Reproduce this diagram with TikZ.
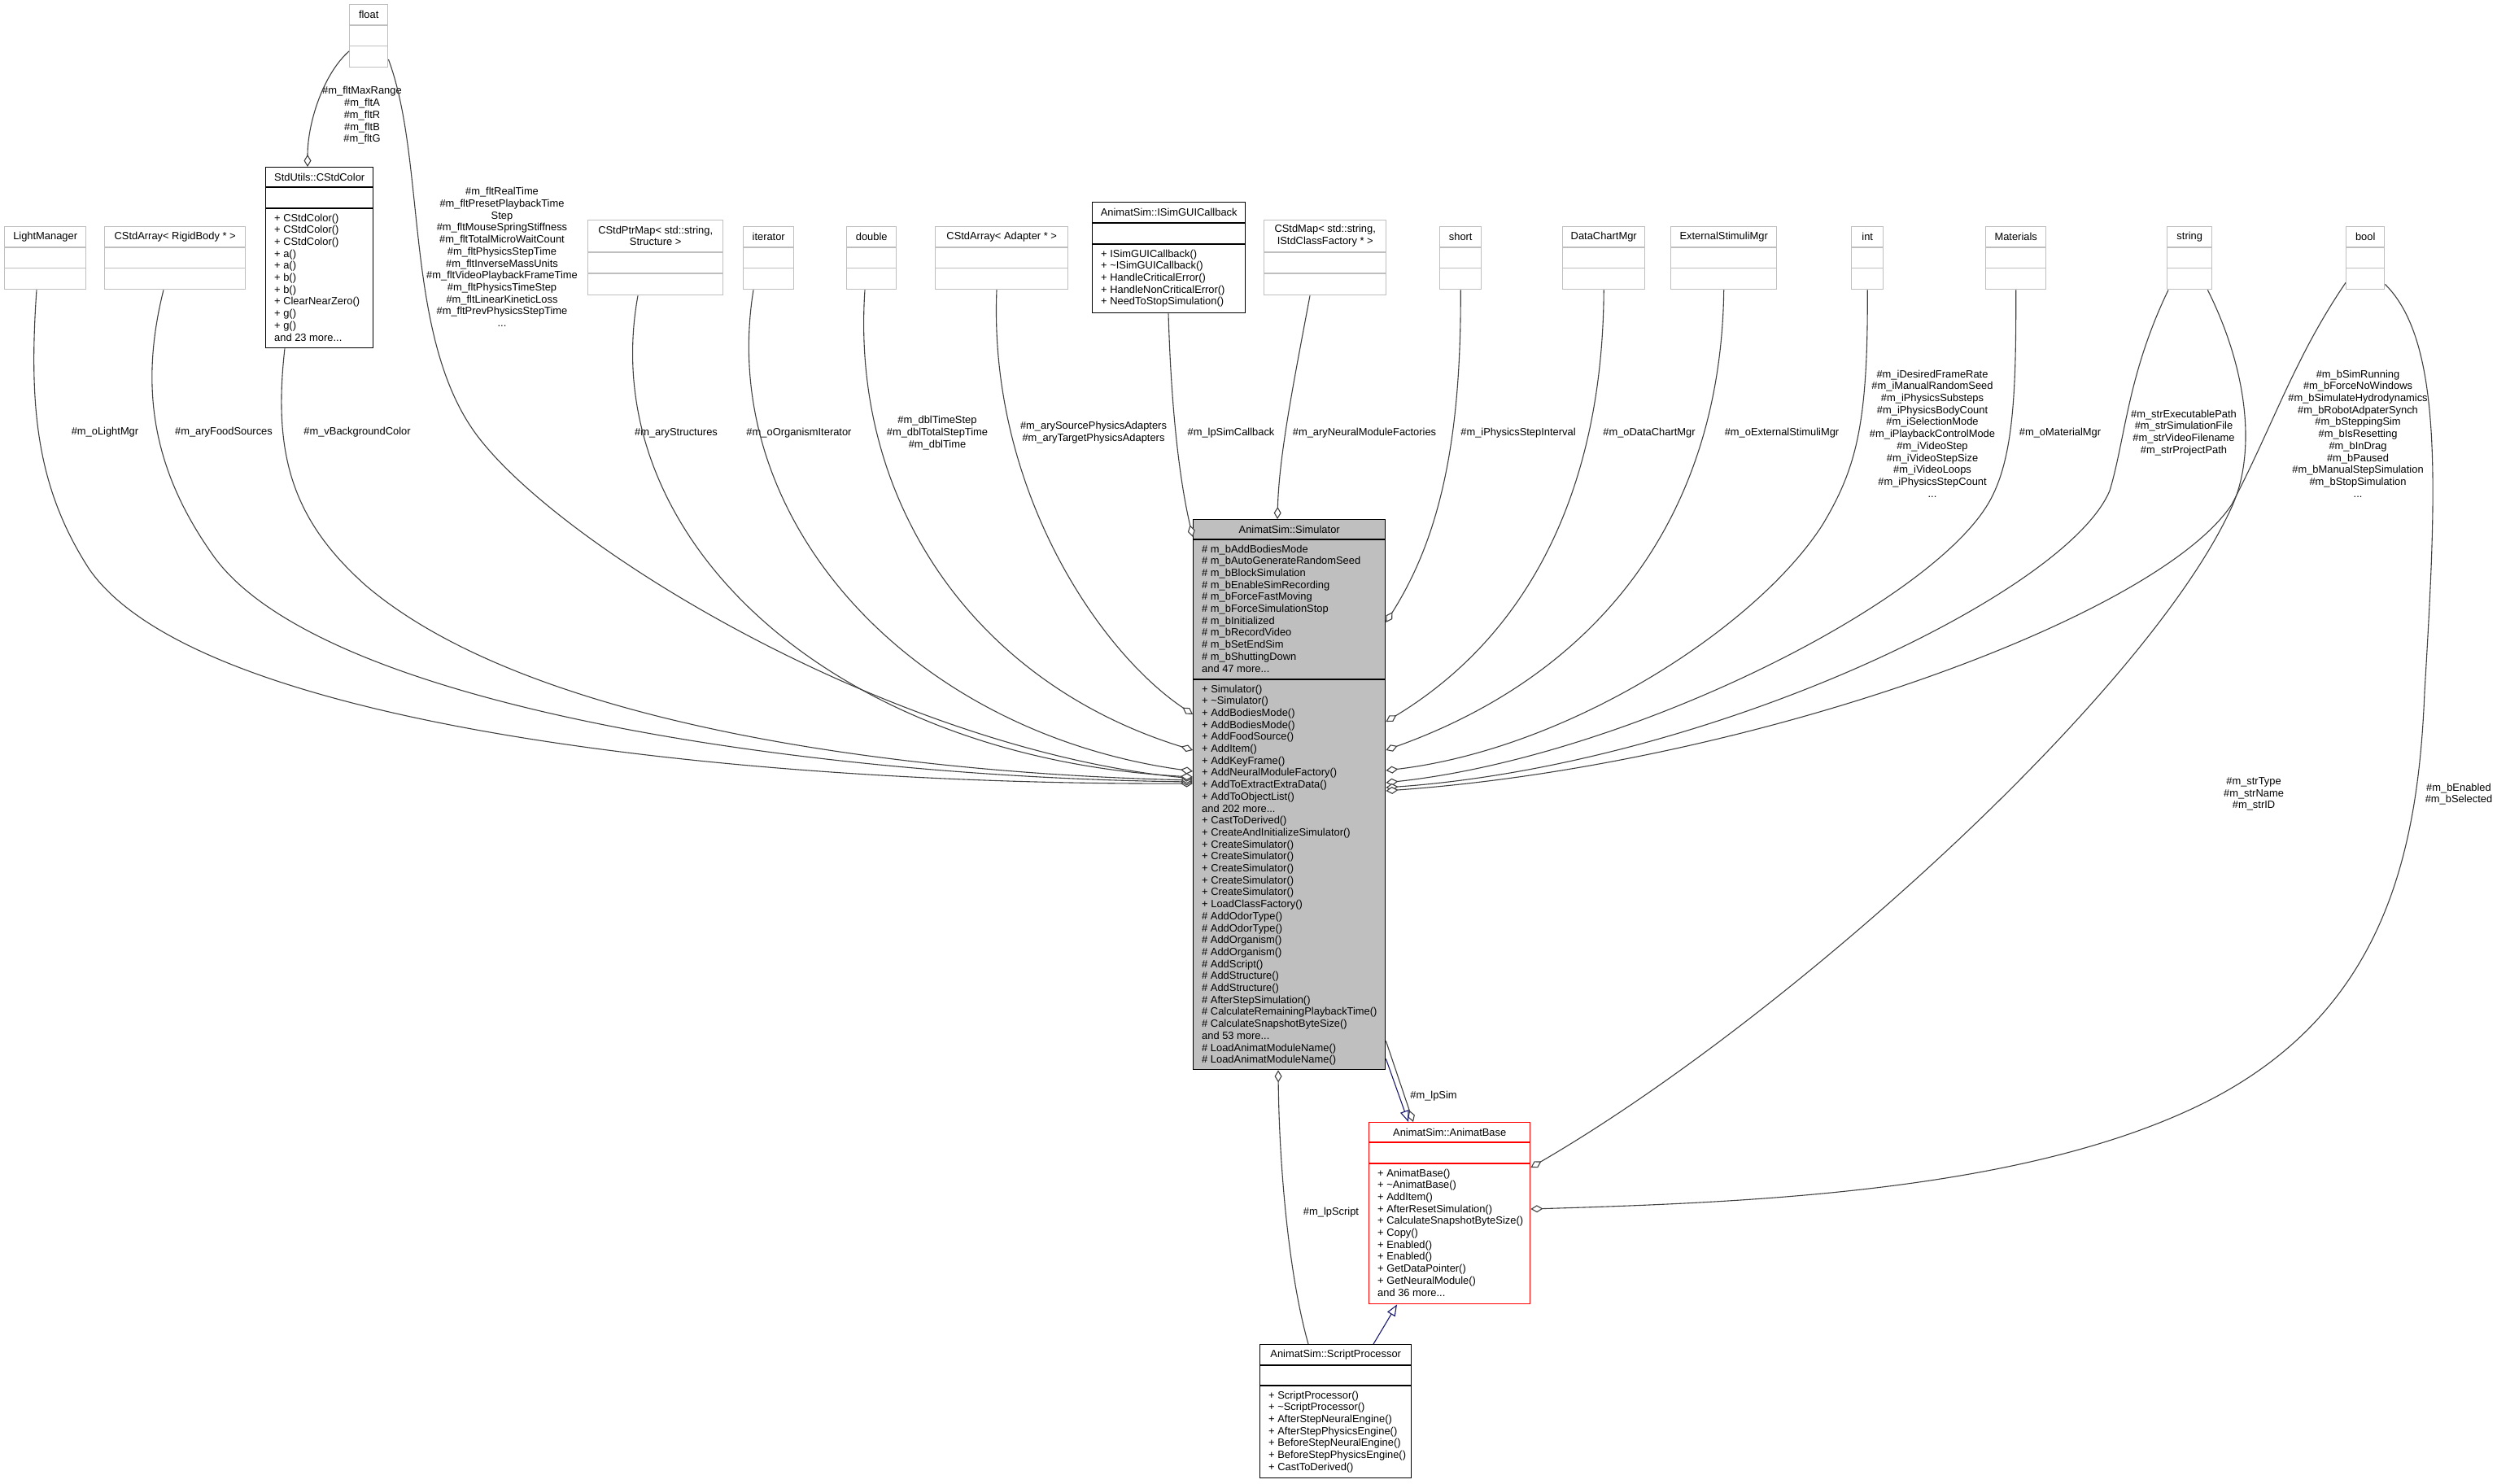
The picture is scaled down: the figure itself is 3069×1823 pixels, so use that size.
\documentclass[tikz,border=0pt]{standalone}
\usepackage{fontspec}
\setmainfont{Liberation Sans}
\usepackage{tikz}
\usetikzlibrary{shapes,arrows,arrows.meta,positioning,calc}
\usepackage{xcolor}
\definecolor{boxgray}{HTML}{BFBFBF}
\definecolor{simfill}{HTML}{BFBFBF}
\definecolor{edgegray}{HTML}{404040}
\definecolor{inhblue}{HTML}{191970}
\definecolor{incred}{HTML}{FF0000}

% #1 name, #2 look, #3 top left, #4 width, #5 #6 #7 compartment heights, #8 title
\newcommand{\classbox}[8]{%
  \node (#1) [#2box, minimum width=#4, minimum height=#5+#6+#7] at (#3) {};
  \draw [#2sep] ([yshift=-#5]#1.north west) -- ([yshift=-#5]#1.north east);
  \draw [#2sep] ([yshift=-#5-#6]#1.north west) -- ([yshift=-#5-#6]#1.north east);
  \node (#1title) [clstitle] at ([yshift=-#5/2]#1.north) {#8};
}

\begin{document}
\begin{tikzpicture}[x=1pt, y=-1pt, font=\fontsize{12.9}{14.7}\selectfont]
\tikzstyle{graybox} = [rectangle, anchor=north west, inner sep=0pt, draw=boxgray, fill=white, line width=1.4pt]
\tikzstyle{graysep} = [draw=boxgray, line width=1.4pt]
\tikzstyle{blackbox} = [rectangle, anchor=north west, inner sep=0pt, draw=black, fill=white, line width=1.4pt]
\tikzstyle{blacksep} = [draw=black, line width=1.4pt]
\tikzstyle{simbox} = [rectangle, anchor=north west, inner sep=0pt, draw=black, fill=simfill, line width=1.4pt]
\tikzstyle{simsep} = [draw=black, line width=1.4pt]
\tikzstyle{redbox} = [rectangle, anchor=north west, inner sep=0pt, draw=incred, fill=white, line width=1.4pt]
\tikzstyle{redsep} = [draw=incred, line width=1.4pt]
\tikzstyle{clstitle} = [align=center, inner sep=0pt]
\tikzstyle{members} = [anchor=north west, align=left, inner sep=0pt]
\tikzstyle{lbl} = [align=center, inner sep=0pt]
\tikzstyle{member} = [draw=edgegray, line width=1.1pt, -{Diamond[length=15pt, width=9pt, fill=white]}]
\tikzstyle{inherit} = [draw=inhblue, line width=1.1pt, -{Triangle[length=14pt, width=11pt, fill=white]}]

\useasboundingbox (0,0) rectangle (3069,1823);

\classbox{floattype}{gray}{429,5}{47}{26}{25.5}{25.5}{float}
\classbox{stdcolor}{black}{326,205}{132}{25}{26}{171}{StdUtils::CStdColor}
\classbox{lightmgr}{gray}{5,278}{100}{26}{25.5}{25.5}{LightManager}
\classbox{rigidarray}{gray}{128,278}{173}{26}{25.5}{25.5}{CStdArray< RigidBody * >}
\classbox{ptrmap}{gray}{722,270}{166}{40}{26}{26}{CStdPtrMap< std::string,\\ Structure >}
\classbox{iterator}{gray}{913,278}{62}{26}{25.5}{25.5}{iterator}
\classbox{doubletype}{gray}{1040,278}{61}{26}{25.5}{25.5}{double}
\classbox{adapterarray}{gray}{1149,278}{163}{26}{25.5}{25.5}{CStdArray< Adapter * >}
\classbox{guicallback}{black}{1342,248}{188}{26}{26}{84}{AnimatSim::ISimGUICallback}
\classbox{factorymap}{gray}{1553,270}{150}{40}{26}{26}{CStdMap< std::string,\\ IStdClassFactory * >}
\classbox{shorttype}{gray}{1769,278}{51}{26}{25.5}{25.5}{short}
\classbox{chartmgr}{gray}{1920,278}{101}{26}{25.5}{25.5}{DataChartMgr}
\classbox{stimulimgr}{gray}{2053,278}{130}{26}{25.5}{25.5}{ExternalStimuliMgr}
\classbox{inttype}{gray}{2275,278}{39}{26}{25.5}{25.5}{int}
\classbox{materials}{gray}{2440,278}{74}{26}{25.5}{25.5}{Materials}
\classbox{stringtype}{gray}{2663,278}{55}{26}{25.5}{25.5}{string}
\classbox{booltype}{gray}{2883,278}{47}{26}{25.5}{25.5}{bool}
\classbox{simulator}{sim}{1466,638}{236}{25}{172}{479}{AnimatSim::Simulator}
\classbox{animatbase}{red}{1682,1379}{198}{25}{26}{172}{AnimatSim::AnimatBase}
\classbox{scriptproc}{black}{1548,1652}{186}{26}{25}{113}{AnimatSim::ScriptProcessor}

\node (colorops) [members] at ([xshift=11, yshift=-57.5]stdcolor.north west) {+ CStdColor()\\+ CStdColor()\\+ CStdColor()\\+ a()\\+ a()\\+ b()\\+ b()\\+ ClearNearZero()\\+ g()\\+ g()\\and 23 more...};
\node (callbackops) [members] at ([xshift=11, yshift=-58.5]guicallback.north west) {+ ISimGUICallback()\\+ \textasciitilde ISimGUICallback()\\+ HandleCriticalError()\\+ HandleNonCriticalError()\\+ NeedToStopSimulation()};
\node (simattrs) [members] at ([xshift=11, yshift=-31.5]simulator.north west) {\# m\_bAddBodiesMode\\\# m\_bAutoGenerateRandomSeed\\\# m\_bBlockSimulation\\\# m\_bEnableSimRecording\\\# m\_bForceFastMoving\\\# m\_bForceSimulationStop\\\# m\_bInitialized\\\# m\_bRecordVideo\\\# m\_bSetEndSim\\\# m\_bShuttingDown\\and 47 more...};
\node (simops) [members] at ([xshift=11, yshift=-203.5]simulator.north west) {+ Simulator()\\+ \textasciitilde Simulator()\\+ AddBodiesMode()\\+ AddBodiesMode()\\+ AddFoodSource()\\+ AddItem()\\+ AddKeyFrame()\\+ AddNeuralModuleFactory()\\+ AddToExtractExtraData()\\+ AddToObjectList()\\and 202 more...\\+ CastToDerived()\\+ CreateAndInitializeSimulator()\\+ CreateSimulator()\\+ CreateSimulator()\\+ CreateSimulator()\\+ CreateSimulator()\\+ CreateSimulator()\\+ LoadClassFactory()\\\# AddOdorType()\\\# AddOdorType()\\\# AddOrganism()\\\# AddOrganism()\\\# AddScript()\\\# AddStructure()\\\# AddStructure()\\\# AfterStepSimulation()\\\# CalculateRemainingPlaybackTime()\\\# CalculateSnapshotByteSize()\\and 53 more...\\\# LoadAnimatModuleName()\\\# LoadAnimatModuleName()};
\node (baseops) [members] at ([xshift=11, yshift=-57.5]animatbase.north west) {+ AnimatBase()\\+ \textasciitilde AnimatBase()\\+ AddItem()\\+ AfterResetSimulation()\\+ CalculateSnapshotByteSize()\\+ Copy()\\+ Enabled()\\+ Enabled()\\+ GetDataPointer()\\+ GetNeuralModule()\\and 36 more...};
\node (scriptops) [members] at ([xshift=11, yshift=-57.5]scriptproc.north west) {+ ScriptProcessor()\\+ \textasciitilde ScriptProcessor()\\+ AfterStepNeuralEngine()\\+ AfterStepPhysicsEngine()\\+ BeforeStepNeuralEngine()\\+ BeforeStepPhysicsEngine()\\+ CastToDerived()};

\node (lblrgba) [lbl] at (445,142) {\#m\_fltMaxRange\\\#m\_fltA\\\#m\_fltR\\\#m\_fltB\\\#m\_fltG};
\node (lblfloat) [lbl] at (617,316) {\#m\_fltRealTime\\\#m\_fltPresetPlaybackTime\\Step\\\#m\_fltMouseSpringStiffness\\\#m\_fltTotalMicroWaitCount\\\#m\_fltPhysicsStepTime\\\#m\_fltInverseMassUnits\\\#m\_fltVideoPlaybackFrameTime\\\#m\_fltPhysicsTimeStep\\\#m\_fltLinearKineticLoss\\\#m\_fltPrevPhysicsStepTime\\...};
\node (lbllight) [lbl] at (129,531) {\#m\_oLightMgr};
\node (lblfood) [lbl] at (275,531) {\#m\_aryFoodSources};
\node (lblcolor) [lbl] at (439,531) {\#m\_vBackgroundColor};
\node (lblstruct) [lbl] at (831,532) {\#m\_aryStructures};
\node (lbliter) [lbl] at (982,532) {\#m\_oOrganismIterator};
\node (lbldouble) [lbl] at (1152,532) {\#m\_dblTimeStep\\\#m\_dblTotalStepTime\\\#m\_dblTime};
\node (lbladapter) [lbl] at (1344,532) {\#m\_arySourcePhysicsAdapters\\\#m\_aryTargetPhysicsAdapters};
\node (lblcallback) [lbl] at (1513,532) {\#m\_lpSimCallback};
\node (lblfactory) [lbl] at (1677,532) {\#m\_aryNeuralModuleFactories};
\node (lblshort) [lbl] at (1866,532) {\#m\_iPhysicsStepInterval};
\node (lblchart) [lbl] at (2027,532) {\#m\_oDataChartMgr};
\node (lblstim) [lbl] at (2190,532) {\#m\_oExternalStimuliMgr};
\node (lblint) [lbl] at (2375,533) {\#m\_iDesiredFrameRate\\\#m\_iManualRandomSeed\\\#m\_iPhysicsSubsteps\\\#m\_iPhysicsBodyCount\\\#m\_iSelectionMode\\\#m\_iPlaybackControlMode\\\#m\_iVideoStep\\\#m\_iVideoStepSize\\\#m\_iVideoLoops\\\#m\_iPhysicsStepCount\\...};
\node (lblmat) [lbl] at (2532,532) {\#m\_oMaterialMgr};
\node (lblstring) [lbl] at (2684,532) {\#m\_strExecutablePath\\\#m\_strSimulationFile\\\#m\_strVideoFilename\\\#m\_strProjectPath};
\node (lblbool) [lbl] at (2898,533) {\#m\_bSimRunning\\\#m\_bForceNoWindows\\\#m\_bSimulateHydrodynamics\\\#m\_bRobotAdpaterSynch\\\#m\_bSteppingSim\\\#m\_bIsResetting\\\#m\_bInDrag\\\#m\_bPaused\\\#m\_bManualStepSimulation\\\#m\_bStopSimulation\\...};
\node (lblstrtype) [lbl] at (2770,976) {\#m\_strType\\\#m\_strName\\\#m\_strID};
\node (lblenabled) [lbl] at (3022,976) {\#m\_bEnabled\\\#m\_bSelected};
\node (lblscript) [lbl] at (1636,1490) {\#m\_lpScript};
\node (lblsim) [lbl] at (1762,1347) {\#m\_lpSim};

\draw [member] ([yshift=-58]floattype.north west) .. controls (398,90) and (378,150) .. ([xshift=52]stdcolor.north west);
\draw [member] ([xshift=40]lightmgr.south west) .. controls (35,500) and (45,600) .. (110,700) .. controls (250,900) and (950,965) .. ([yshift=-325]simulator.north west);
\draw [member] ([xshift=73]rigidarray.south west) .. controls (170,480) and (190,580) .. (260,680) .. controls (390,870) and (1000,955) .. ([yshift=-323]simulator.north west);
\draw [member] ([xshift=24]stdcolor.south west) .. controls (335,560) and (360,640) .. (450,720) .. controls (650,890) and (1100,950) .. ([yshift=-321]simulator.north west);
\draw [member] ([yshift=-68]floattype.north east) .. controls (525,200) and (495,420) .. (590,540) .. controls (700,680) and (1100,920) .. ([yshift=-319]simulator.north west);
\draw [member] ([xshift=62]ptrmap.south west) .. controls (730,660) and (1020,930) .. ([yshift=-317]simulator.north west);
\draw [member] ([xshift=13]iterator.south west) .. controls (880,640) and (1120,900) .. ([yshift=-310]simulator.north west);
\draw [member] ([xshift=23]doubletype.south west) .. controls (1045,620) and (1200,840) .. ([yshift=-284]simulator.north west);
\draw [member] ([xshift=76]adapterarray.south west) .. controls (1215,600) and (1350,800) .. ([yshift=-240]simulator.north west);
\draw [member] ([xshift=94]guicallback.south west) .. controls (1440,520) and (1452,600) .. ([yshift=-22]simulator.north west);
\draw [member] ([xshift=57]factorymap.south west) .. controls (1590,470) and (1572,560) .. ([xshift=104]simulator.north west);
\draw [member] (shorttype.south) .. controls (1796,540) and (1770,660) .. ([yshift=-127]simulator.north east);
\draw [member] (chartmgr.south) .. controls (1970,600) and (1880,780) .. ([yshift=-249]simulator.north east);
\draw [member] (stimulimgr.south) .. controls (2115,640) and (1960,830) .. ([yshift=-284]simulator.north east);
\draw [member] (inttype.south) .. controls (2296,520) and (2282,575) .. (2240,645) .. controls (2160,770) and (1930,920) .. ([yshift=-309]simulator.north east);
\draw [member] (materials.south) .. controls (2478,480) and (2475,560) .. (2447,613) .. controls (2380,740) and (2000,930) .. ([yshift=-324]simulator.north east);
\draw [member] ([xshift=2]stringtype.south west) .. controls (2615,460) and (2612,540) .. (2593,603) .. controls (2540,730) and (2100,940) .. ([yshift=-330]simulator.north east);
\draw [member] ([yshift=9]booltype.south west) .. controls (2820,440) and (2795,520) .. (2743,620) .. controls (2650,760) and (2150,940) .. ([yshift=-334]simulator.north east);
\draw [member] ([xshift=-6]stringtype.south east) .. controls (2765,460) and (2772,560) .. (2743,623) .. controls (2640,850) and (2200,1250) .. ([yshift=-56]animatbase.north east);
\draw [member] ([yshift=7]booltype.south east) .. controls (3003,420) and (2995,600) .. (2980,850) .. controls (2972,1050) and (2930,1250) .. (2700,1360) .. controls (2480,1465) and (2150,1478) .. ([yshift=-107]animatbase.north east);
\draw [member] ([xshift=60]scriptproc.north west) .. controls (1582,1560) and (1572,1420) .. ([xshift=105]simulator.south west);
\draw [member] ([yshift=36]simulator.south east) -- ([xshift=55]animatbase.north west);
\draw [inherit] ([yshift=14]simulator.south east) -- ([xshift=49]animatbase.north west);
\draw [inherit] ([xshift=140]scriptproc.north west) -- ([xshift=35]animatbase.south west);

\end{tikzpicture}
\end{document}
